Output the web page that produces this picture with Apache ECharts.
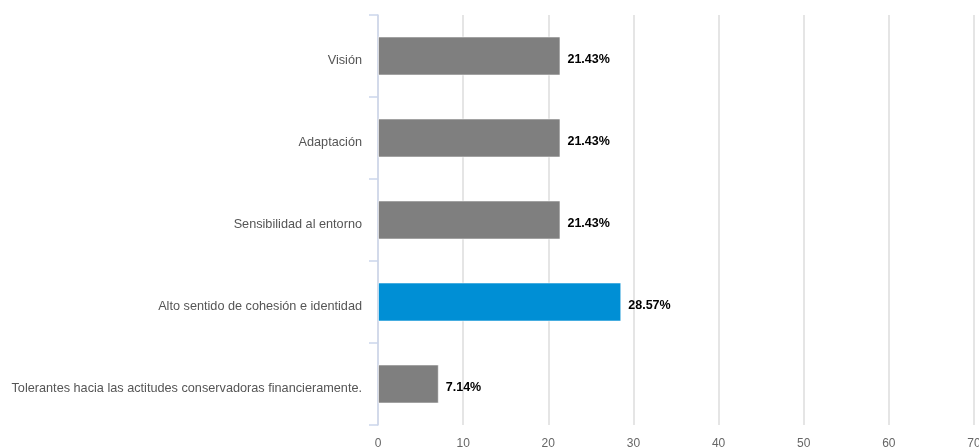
<!DOCTYPE html>
<html>
<head>
<meta charset="utf-8">
<script src="https://cdn.jsdelivr.net/npm/echarts@6/dist/echarts.min.js"></script>
<style>
html,body{margin:0;padding:0;background:#fff;}
#chart{width:979px;height:448px;}
</style>
</head>
<body>
<div id="chart"></div>
<script>
const categories = [
  "Visión",
  "Adaptación",
  "Sensibilidad al entorno",
  "Alto sentido de cohesión e identidad",
  "Tolerantes hacia las actitudes conservadoras financieramente."
];
const values = [21.43, 21.43, 21.43, 28.57, 7.14];
const barColors = ["#7f7f7f", "#7f7f7f", "#7f7f7f", "#008fd5", "#7f7f7f"];
const xTicks = [0, 10, 20, 30, 40, 50, 60, 70];

const chart = echarts.init(document.getElementById('chart'));
chart.setOption({
  animation: false,
  backgroundColor: '#ffffff',
  textStyle: { fontFamily: 'Liberation Sans, Arial, sans-serif' },
  grid: { left: 378, right: 5, top: 15, bottom: 23, containLabel: false, outerBoundsMode: 'none' },
  xAxis: {
    type: 'value',
    min: xTicks[0],
    max: xTicks[xTicks.length - 1],
    interval: 10,
    axisLine: { show: false },
    axisTick: { show: false },
    axisLabel: { color: '#666666', fontSize: 12, margin: 13, showMaxLabel: true },
    splitLine: { show: true, lineStyle: { color: '#dcdcdc', width: 1.5 } }
  },
  yAxis: {
    type: 'category',
    inverse: true,
    data: categories,
    axisLine: { show: true, lineStyle: { color: '#ccd6eb', width: 1.5 } },
    axisTick: { show: true, length: 9, lineStyle: { color: '#ccd6eb', width: 1.5 } },
    axisLabel: {
      color: '#555555', fontSize: 12.7, margin: 16,
      formatter: v => '{a|' + v + '}',
      rich: { a: { color: '#555555', fontSize: 12.7, padding: [8, 0, 0, 0] } }
    },
    splitLine: { show: false }
  },
  series: [{
    type: 'bar',
    barWidth: 39,
    data: values.map((v, i) => ({
      value: v,
      itemStyle: { color: barColors[i], borderColor: 'rgba(255,255,255,0.55)', borderWidth: 1 }
    })),
    label: {
      show: true,
      position: 'right',
      distance: 7,
      offset: [0, 4],
      color: '#000000',
      fontWeight: 'bold',
      fontSize: 12.5,
      formatter: p => p.value.toFixed(2) + '%'
    }
  }]
});
</script>
</body>
</html>
